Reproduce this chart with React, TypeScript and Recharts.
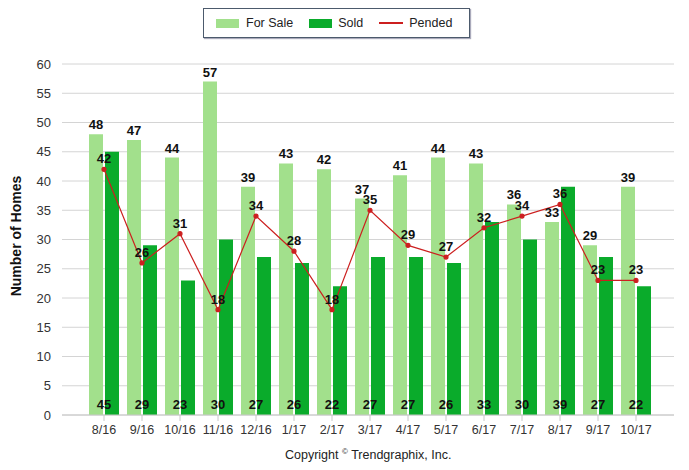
import { ComposedChart, Bar, Line, XAxis, YAxis, CartesianGrid, LabelList } from "recharts"

const months = ["8/16", "9/16", "10/16", "11/16", "12/16", "1/17", "2/17", "3/17", "4/17", "5/17", "6/17", "7/17", "8/17", "9/17", "10/17"]
const forSale = [48, 47, 44, 57, 39, 43, 42, 37, 41, 44, 43, 36, 33, 29, 39]
const sold = [45, 29, 23, 30, 27, 26, 22, 27, 27, 26, 33, 30, 39, 27, 22]
const pended = [42, 26, 31, 18, 34, 28, 18, 35, 29, 27, 32, 34, 36, 23, 23]
const yTicks = [0, 5, 10, 15, 20, 25, 30, 35, 40, 45, 50, 55, 60]

const data = months.map((m, i) => ({ name: m, forSale: forSale[i], sold: sold[i], pended: pended[i] }))

const FONT = "'Liberation Sans', Arial, sans-serif"
const LIGHT = "#a2e08c"
const DARK = "#0aab2b"
const RED = "#cc1f1f"

// sold values sit at the bottom of the bar, centred on the category
const SoldLabel = (props: any) => {
    const { x, y, height, value } = props
    return (
        <text x={x - 1} y={y + height - 6} textAnchor="middle" fontSize={13} fontWeight="bold" fill="#111" fontFamily={FONT}>
            {value}
        </text>
    )
}

export default function App() {
    return (
        <div style={{ position: "absolute", left: 0, top: 0, width: 689, height: 470, background: "#fff", fontFamily: FONT }}>
            <div style={{
                position: "absolute", left: 203, top: 8, width: 265, height: 28,
                border: "1px solid #4c5a6c", boxShadow: "1px 1px 1px #aab",
                display: "flex", alignItems: "center", fontSize: 12.5, color: "#222"
            }}>
                <span style={{ marginLeft: 12, width: 23, height: 9, background: LIGHT }} />
                <span style={{ marginLeft: 7 }}>For Sale</span>
                <span style={{ marginLeft: 16, width: 23, height: 9, background: DARK }} />
                <span style={{ marginLeft: 6 }}>Sold</span>
                <span style={{ marginLeft: 16, width: 24, height: 2, background: RED }} />
                <span style={{ marginLeft: 6 }}>Pended</span>
            </div>

            <div style={{
                position: "absolute", left: 16, top: 236, transform: "translate(-50%, -50%) rotate(-90deg)",
                whiteSpace: "nowrap", fontSize: 14, fontWeight: "bold", color: "#111"
            }}>
                Number of Homes
            </div>

            <ComposedChart width={689} height={470} data={data} margin={{ top: 64, right: 15, bottom: 25, left: 0 }}
                barSize={14} barGap={2}>
                <CartesianGrid vertical={false} stroke="#d4d4d4" />
                <XAxis
                    dataKey="name"
                    padding={{ left: 23, right: 19 }}
                    height={30}
                    tickSize={6}
                    tickMargin={4}
                    stroke="#c8c8c8"
                    tick={{ fill: "#333", fontSize: 12.5, fontFamily: FONT }}
                    interval={0}
                />
                <YAxis
                    domain={[0, 60]}
                    ticks={yTicks}
                    width={62}
                    axisLine={false}
                    tickLine={false}
                    tickMargin={5}
                    tick={{ fill: "#333", fontSize: 13, fontFamily: FONT }}
                />
                <Bar dataKey="forSale" fill={LIGHT} isAnimationActive={false}>
                    <LabelList dataKey="forSale" position="top" offset={5} fill="#111" fontSize={13} fontWeight="bold" fontFamily={FONT} />
                </Bar>
                <Bar dataKey="sold" fill={DARK} isAnimationActive={false}>
                    <LabelList dataKey="sold" content={SoldLabel} />
                </Bar>
                <Line dataKey="pended" stroke={RED} strokeWidth={1.2} dot={{ r: 2, fill: RED, stroke: RED }}
                    activeDot={false} isAnimationActive={false}>
                    <LabelList dataKey="pended" position="top" offset={6} fill="#111" fontSize={13} fontWeight="bold" fontFamily={FONT} />
                </Line>
            </ComposedChart>

            <div style={{ position: "absolute", left: 285, top: 447, fontSize: 12.5, color: "#222" }}>
                Copyright <sup style={{ fontSize: 8 }}>©</sup> Trendgraphix, Inc.
            </div>
        </div>
    )
}
